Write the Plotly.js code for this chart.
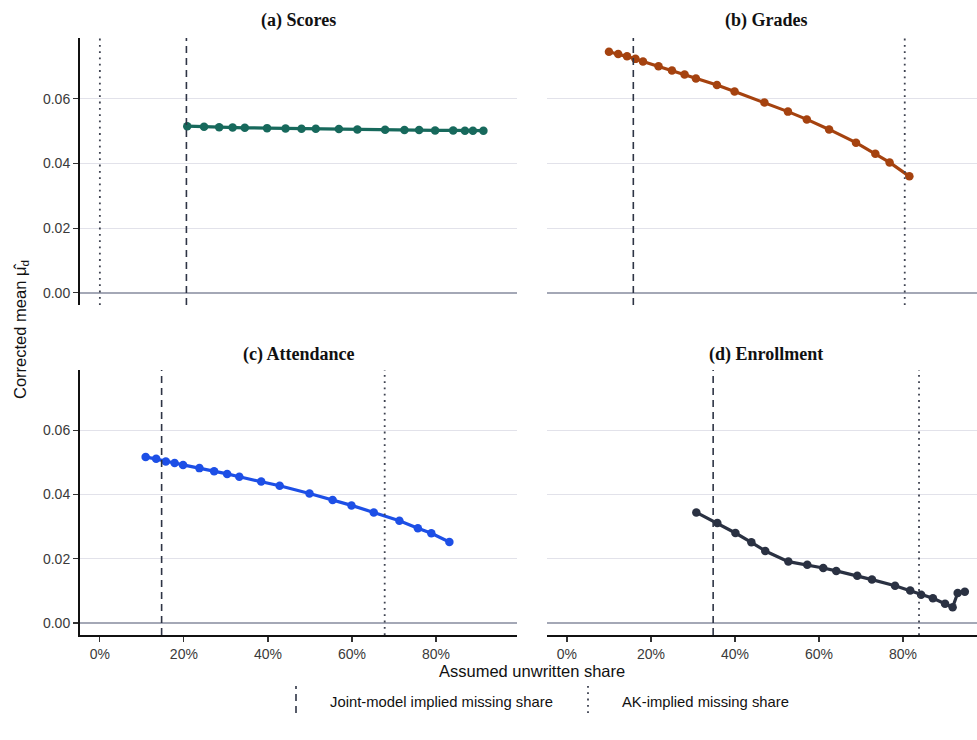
<!DOCTYPE html>
<html>
<head>
<meta charset="utf-8">
<script src="https://cdn.plot.ly/plotly-3.0.1.min.js"></script>
<style>
  html, body { margin: 0; padding: 0; background: #ffffff; }
  #chart { width: 977px; height: 740px; }
</style>
</head>
<body>
<div id="chart"></div>
<script>
// Assumed unwritten share (%) and corrected mean for each outcome
const scoresShare = [20.8, 24.8, 28.4, 31.6, 34.5, 39.8, 44.2, 48.0, 51.4, 56.9, 61.3, 67.9, 72.5, 76.0, 79.8, 84.1, 86.9, 88.8, 91.3];
const scoresMean  = [0.0515, 0.0513, 0.0512, 0.0511, 0.0510, 0.0509, 0.0508, 0.0507, 0.0507, 0.0506, 0.0505, 0.0504, 0.0503, 0.0503, 0.0502, 0.0502, 0.0501, 0.0501, 0.0501];

const gradesShare = [10.0, 12.2, 14.3, 16.3, 18.1, 21.8, 25.0, 28.0, 30.7, 35.7, 39.9, 47.0, 52.6, 57.1, 62.4, 68.8, 73.4, 76.8, 81.5];
const gradesMean  = [0.0745, 0.0738, 0.0731, 0.0723, 0.0715, 0.0700, 0.0687, 0.0675, 0.0662, 0.0642, 0.0622, 0.0588, 0.0560, 0.0536, 0.0505, 0.0464, 0.0430, 0.0403, 0.0360];

const attendShare = [10.9, 13.4, 15.7, 17.8, 19.8, 23.7, 27.2, 30.3, 33.2, 38.4, 42.8, 49.9, 55.4, 59.9, 65.2, 71.3, 75.7, 78.9, 83.2];
const attendMean  = [0.0517, 0.0511, 0.0503, 0.0498, 0.0492, 0.0482, 0.0472, 0.0464, 0.0455, 0.0440, 0.0427, 0.0403, 0.0383, 0.0366, 0.0344, 0.0318, 0.0295, 0.0279, 0.0252];

const enrollShare = [30.8, 35.8, 40.1, 43.9, 47.2, 52.7, 57.2, 61.0, 64.1, 69.1, 72.6, 78.1, 81.7, 84.3, 87.1, 90.0, 91.8, 93.0, 94.7];
const enrollMean  = [0.0344, 0.0311, 0.0280, 0.0251, 0.0224, 0.0191, 0.0181, 0.0171, 0.0162, 0.0147, 0.0135, 0.0116, 0.0101, 0.0088, 0.0077, 0.0060, 0.0049, 0.0093, 0.0097];

// Implied missing shares (%) marked by vertical reference lines
const jointShare = [20.6, 15.8, 14.7, 34.8];
const akShare    = [0.0, 80.4, 67.8, 83.8];

const panelTitles = ['(a) Scores', '(b) Grades', '(c) Attendance', '(d) Enrollment'];
const panelColors = ['#17695c', '#a5420f', '#1d4fe6', '#2a3142'];
const xTickVals = [0, 20, 40, 60, 80];
const xTickText = ['0%', '20%', '40%', '60%', '80%'];
const yTickVals = [0, 0.02, 0.04, 0.06];
const yTickText = ['0.00', '0.02', '0.04', '0.06'];

const seriesX = [scoresShare, gradesShare, attendShare, enrollShare];
const seriesY = [scoresMean, gradesMean, attendMean, enrollMean];

const axisPairs = [['x', 'y'], ['x2', 'y2'], ['x3', 'y3'], ['x4', 'y4']];

const traces = seriesX.map((xs, i) => ({
  type: 'scatter',
  mode: 'lines+markers',
  x: xs,
  y: seriesY[i],
  xaxis: axisPairs[i][0],
  yaxis: axisPairs[i][1],
  line: { color: panelColors[i], width: 3.2 },
  marker: { color: panelColors[i], size: 8.5 },
  showlegend: false,
  hoverinfo: 'x+y'
}));

const tickFont = { family: 'Liberation Sans, Arial, sans-serif', size: 14, color: '#3a3a3a' };
const yRange = [-0.00375, 0.07875];
const gridColor = '#e2e2ea';
const zeroColor = '#a4a8b6';

function xAxis(domain, range, anchor, bottom) {
  return {
    domain: domain, range: range, anchor: anchor,
    showgrid: false,
    zeroline: false,
    showline: bottom, linecolor: '#111', linewidth: 2,
    ticks: bottom ? 'outside' : '', ticklen: 5, tickwidth: 1.2, tickcolor: '#333',
    showticklabels: bottom,
    tickmode: 'array', tickvals: xTickVals, ticktext: xTickText,
    tickfont: tickFont,
    fixedrange: true
  };
}
function yAxis(domain, anchor, left) {
  return {
    domain: domain, range: yRange, anchor: anchor,
    showgrid: true, gridcolor: gridColor, gridwidth: 1,
    zeroline: true, zerolinecolor: zeroColor, zerolinewidth: 1.6,
    showline: left, linecolor: '#111', linewidth: 2,
    ticks: left ? 'outside' : '', ticklen: 5, tickwidth: 1.2, tickcolor: '#333',
    showticklabels: left,
    tickmode: 'array', tickvals: yTickVals, ticktext: yTickText,
    tickfont: tickFont,
    fixedrange: true
  };
}

const leftDom = [0, 0.4872];
const rightDom = [0.5206, 1];
const topDom = [0.5528, 1];
const botDom = [0, 0.4439];
const leftRange = [-4.73, 99.3];
const rightRange = [-4.75, 97.6];

const jointLine = { color: '#2e3445', width: 1.6, dash: '7px,5px' };
const akLine = { color: '#3e4250', width: 1.8, dash: '1.8px,4.5px' };

const shapes = [];
const xrefs = ['x', 'x2', 'x3', 'x4'];
const yrefs = ['y domain', 'y2 domain', 'y3 domain', 'y4 domain'];
for (let i = 0; i < 4; i++) {
  shapes.push({
    type: 'line', xref: xrefs[i], yref: yrefs[i],
    x0: jointShare[i], x1: jointShare[i], y0: 0, y1: 1,
    line: jointLine
  });
  shapes.push({
    type: 'line', xref: xrefs[i], yref: yrefs[i],
    x0: akShare[i], x1: akShare[i], y0: 0, y1: 1,
    line: akLine
  });
}

// Legend keys drawn as short vertical segments, like the reference lines
shapes.push({
  type: 'line', xref: 'paper', yref: 'paper',
  x0: (296 - 80) / 897, x1: (296 - 80) / 897,
  y0: (635 - 713) / 597, y1: (635 - 686) / 597,
  line: jointLine
});
shapes.push({
  type: 'line', xref: 'paper', yref: 'paper',
  x0: (588 - 80) / 897, x1: (588 - 80) / 897,
  y0: (635 - 713) / 597, y1: (635 - 686) / 597,
  line: akLine
});

const titleFont = { family: 'Liberation Serif, Times New Roman, serif', size: 18, color: '#111' };
const labelFont = { family: 'Liberation Sans, Arial, sans-serif', size: 16.5, color: '#111' };
const legendFont = { family: 'Liberation Sans, Arial, sans-serif', size: 14.8, color: '#111' };

const annotations = [
  { text: '<b>' + panelTitles[0] + '</b>', x: (298 - 80) / 897, y: (635 - 21) / 597 },
  { text: '<b>' + panelTitles[1] + '</b>', x: (766 - 80) / 897, y: (635 - 21) / 597 },
  { text: '<b>' + panelTitles[2] + '</b>', x: (298 - 80) / 897, y: (635 - 354) / 597 },
  { text: '<b>' + panelTitles[3] + '</b>', x: (766 - 80) / 897, y: (635 - 354) / 597 }
].map(a => Object.assign({
  xref: 'paper', yref: 'paper', showarrow: false,
  xanchor: 'center', yanchor: 'middle', font: titleFont
}, a));

annotations.push({
  text: 'Corrected mean μ\u0302<sub>d</sub>',
  xref: 'paper', yref: 'paper', showarrow: false,
  x: (21 - 80) / 897, y: (635 - 330) / 597,
  xanchor: 'center', yanchor: 'middle', textangle: -90, font: labelFont
});
annotations.push({
  text: 'Assumed unwritten share',
  xref: 'paper', yref: 'paper', showarrow: false,
  x: (532 - 80) / 897, y: (635 - 671) / 597,
  xanchor: 'center', yanchor: 'middle', font: labelFont
});
annotations.push({
  text: 'Joint-model implied missing share',
  xref: 'paper', yref: 'paper', showarrow: false,
  x: (328 - 80) / 897, y: (635 - 702) / 597,
  xanchor: 'left', yanchor: 'middle', font: legendFont
});
annotations.push({
  text: 'AK-implied missing share',
  xref: 'paper', yref: 'paper', showarrow: false,
  x: (620 - 80) / 897, y: (635 - 702) / 597,
  xanchor: 'left', yanchor: 'middle', font: legendFont
});

const layout = {
  width: 977, height: 740,
  margin: { l: 80, r: 0, t: 38, b: 105 },
  paper_bgcolor: '#ffffff', plot_bgcolor: '#ffffff',
  showlegend: false,
  xaxis:  xAxis(leftDom, leftRange, 'y', false),
  yaxis:  yAxis(topDom, 'x', true),
  xaxis2: xAxis(rightDom, rightRange, 'y2', false),
  yaxis2: yAxis(topDom, 'x2', false),
  xaxis3: xAxis(leftDom, leftRange, 'y3', true),
  yaxis3: yAxis(botDom, 'x3', true),
  xaxis4: xAxis(rightDom, rightRange, 'y4', true),
  yaxis4: yAxis(botDom, 'x4', false),
  shapes: shapes,
  annotations: annotations
};

Plotly.newPlot('chart', traces, layout, { displayModeBar: false, staticPlot: true });
</script>
</body>
</html>
